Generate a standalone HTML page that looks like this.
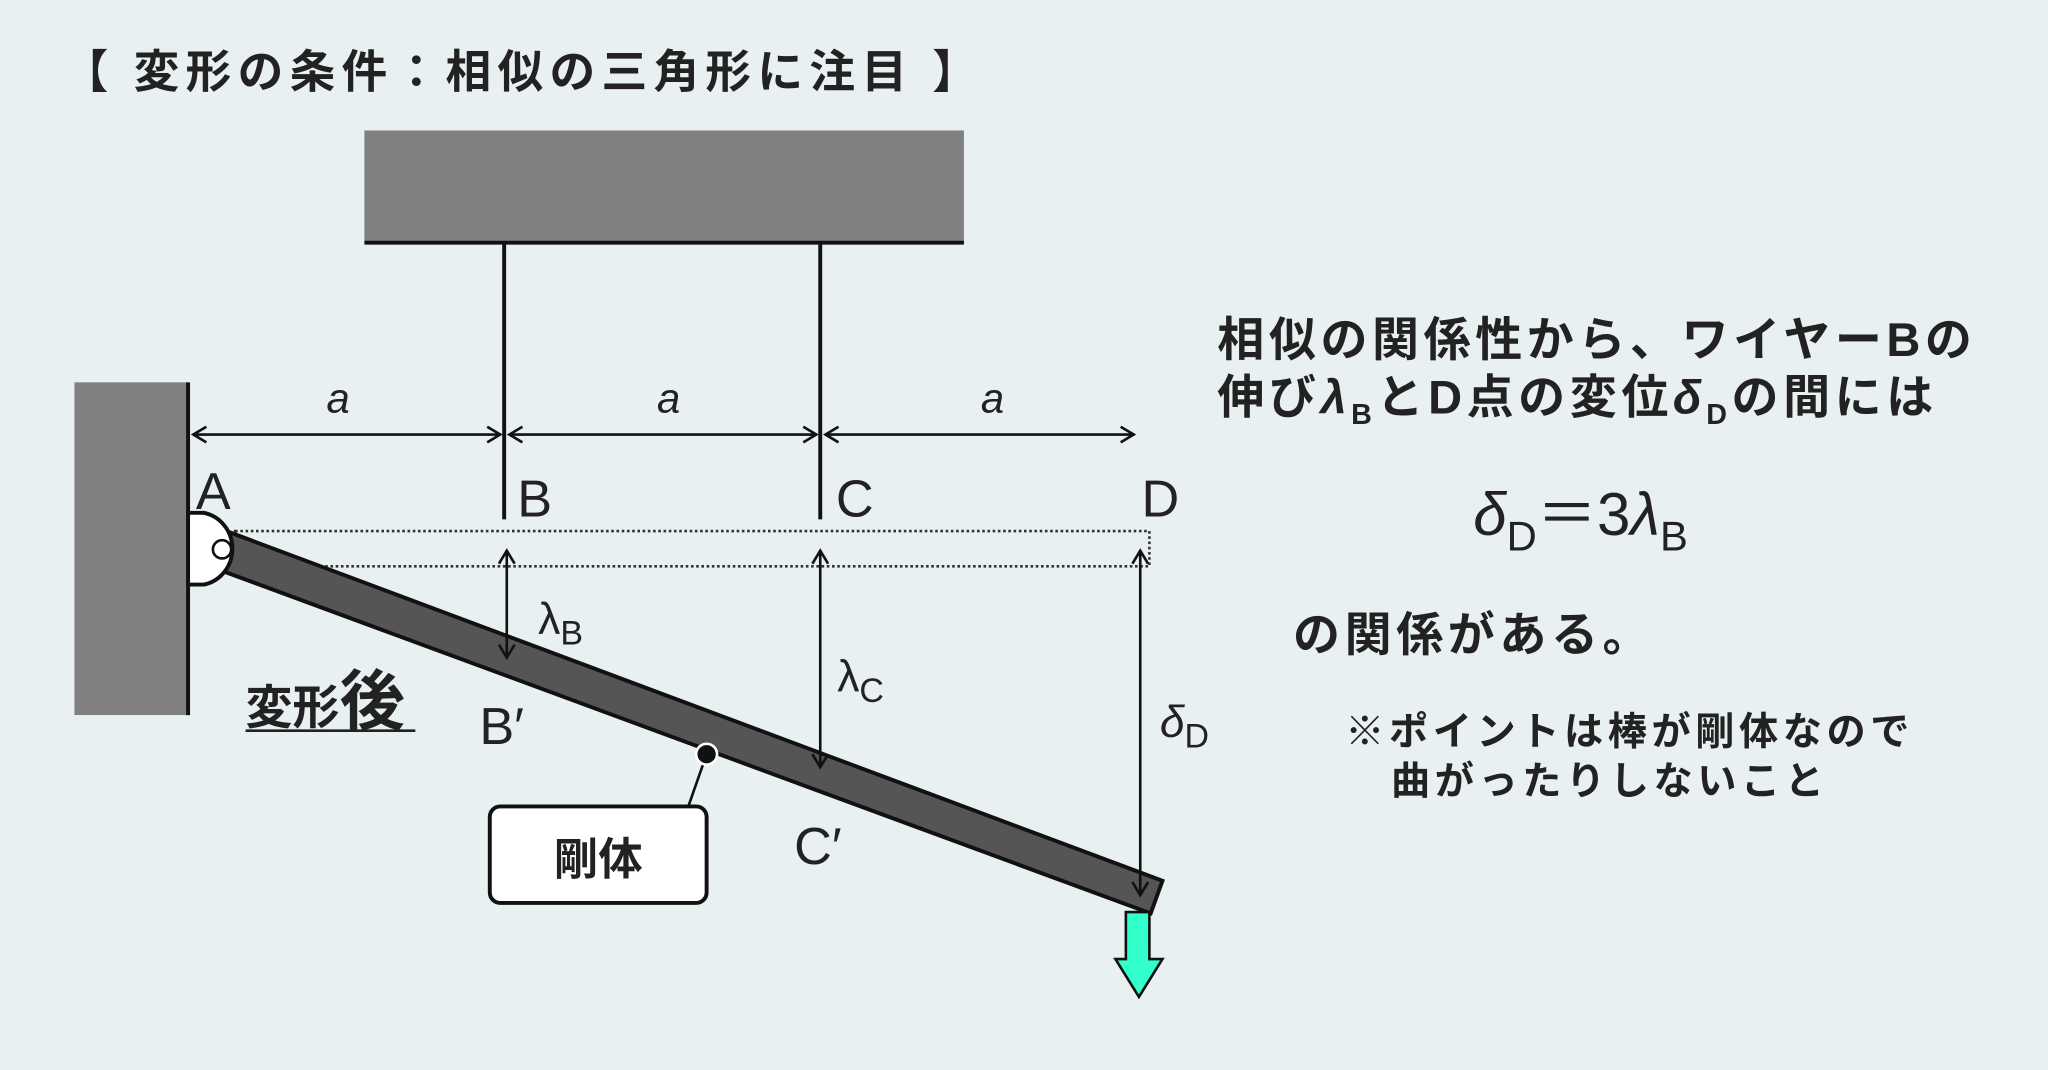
<!DOCTYPE html>
<html><head><meta charset="utf-8"><style>
html,body{margin:0;padding:0;background:#e8f0f2;}
svg{display:block}
text{font-family:"Liberation Sans","Noto Sans CJK JP",sans-serif;fill:#222}
</style></head><body>
<svg width="2048" height="1070" viewBox="0 0 1568 820" preserveAspectRatio="none" xmlns="http://www.w3.org/2000/svg">
<defs>
<marker id="ah" markerWidth="14" markerHeight="14" refX="12" refY="7" orient="auto-start-reverse" markerUnits="userSpaceOnUse">
<path d="M2,1 L12,7 L2,13" fill="none" stroke="#111" stroke-width="2"/>
</marker>
</defs>
<rect width="1568" height="820" fill="#e8f0f2"/>
<text x="48" y="67" font-size="35" font-weight="bold" letter-spacing="4.8">【 変形の条件：相似の三角形に注目 】</text>
<rect x="279" y="100" width="459" height="86" fill="#808080"/>
<line x1="279" y1="186" x2="738" y2="186" stroke="#111" stroke-width="3"/>
<rect x="57" y="293" width="87" height="255" fill="#808080"/>
<line x1="144" y1="293" x2="144" y2="548" stroke="#111" stroke-width="3"/>
<line x1="386" y1="186" x2="386" y2="398" stroke="#111" stroke-width="3"/>
<line x1="628" y1="186" x2="628" y2="398" stroke="#111" stroke-width="3"/>
<g stroke="#111" stroke-width="2" marker-start="url(#ah)" marker-end="url(#ah)">
<line x1="148" y1="333" x2="383" y2="333"/>
<line x1="390" y1="333" x2="625" y2="333"/>
<line x1="632" y1="333" x2="868" y2="333"/>
</g>
<g font-size="32" font-style="italic"><text x="250" y="316">a</text><text x="503" y="316">a</text><text x="751" y="316">a</text></g>
<g font-size="40"><text x="150" y="390">A</text><text x="396" y="396">B</text><text x="640" y="396">C</text><text x="874" y="396">D</text></g>
<rect x="180" y="407" width="700" height="27" fill="none" stroke="#333" stroke-width="2" stroke-dasharray="2,2"/>
<polygon points="176,408 890,675 881,700 166,436" fill="#555" stroke="#111" stroke-width="3"/>
<path d="M144,393 H156 A27,28 0 0 1 156,448 H144 Z" fill="#fff" stroke="#111" stroke-width="3"/>
<circle cx="170" cy="421" r="7" fill="#fff" stroke="#111" stroke-width="2"/>
<path d="M862,699 H880 V735 H890 L872,764 L854,735 H862 Z" fill="#3fc" stroke="#111" stroke-width="2"/>
<g stroke="#111" stroke-width="2" marker-start="url(#ah)" marker-end="url(#ah)">
<line x1="388" y1="422" x2="388" y2="504"/>
<line x1="628" y1="422" x2="628" y2="588"/>
<line x1="873" y1="422" x2="873" y2="686"/>
</g>
<text x="412" y="486" font-size="34">λ<tspan font-size="26" dy="8">B</tspan></text>
<text x="641" y="530" font-size="34">λ<tspan font-size="26" dy="8">C</tspan></text>
<text x="888" y="565" font-size="34" font-style="italic">δ<tspan font-size="26" dy="8" font-style="normal">D</tspan></text>
<text x="367" y="570" font-size="40">B′</text>
<text x="608" y="662" font-size="40">C′</text>
<text x="188" y="555" font-size="36" font-weight="bold">変形<tspan font-size="50">後</tspan></text>
<line x1="188" y1="560" x2="318" y2="560" stroke="#222" stroke-width="2"/>
<line x1="541" y1="578" x2="527" y2="618" stroke="#111" stroke-width="2"/>
<circle cx="541" cy="578" r="8" fill="#111" stroke="#fff" stroke-width="2"/>
<rect x="375" y="618" width="166" height="74" rx="8" fill="#fff" stroke="#111" stroke-width="3"/>
<text x="458" y="670" font-size="34" font-weight="bold" text-anchor="middle">剛体</text>
<g font-size="36" font-weight="bold" letter-spacing="3.5">
<text x="932" y="273">相似の関係性から、ワイヤーBの</text>
<text x="932" y="317">伸び<tspan font-style="italic">λ</tspan><tspan font-size="22" dy="8">B</tspan><tspan dy="-8">とD点の変位</tspan><tspan font-style="italic">δ</tspan><tspan font-size="22" dy="8">D</tspan><tspan dy="-8">の間には</tspan></text>
<text x="990" y="499">の関係がある。</text>
</g>
<text x="1128" y="410" font-size="46"><tspan font-style="italic">δ</tspan><tspan font-size="32" dy="12">D</tspan><tspan dy="-12">＝3</tspan><tspan font-style="italic">λ</tspan><tspan font-size="32" dy="12">B</tspan></text>
<g font-size="30" font-weight="bold" letter-spacing="3.5">
<text x="1030" y="571">※ポイントは棒が剛体なので</text>
<text x="1065" y="609">曲がったりしないこと</text>
</g>
</svg>
</body></html>
